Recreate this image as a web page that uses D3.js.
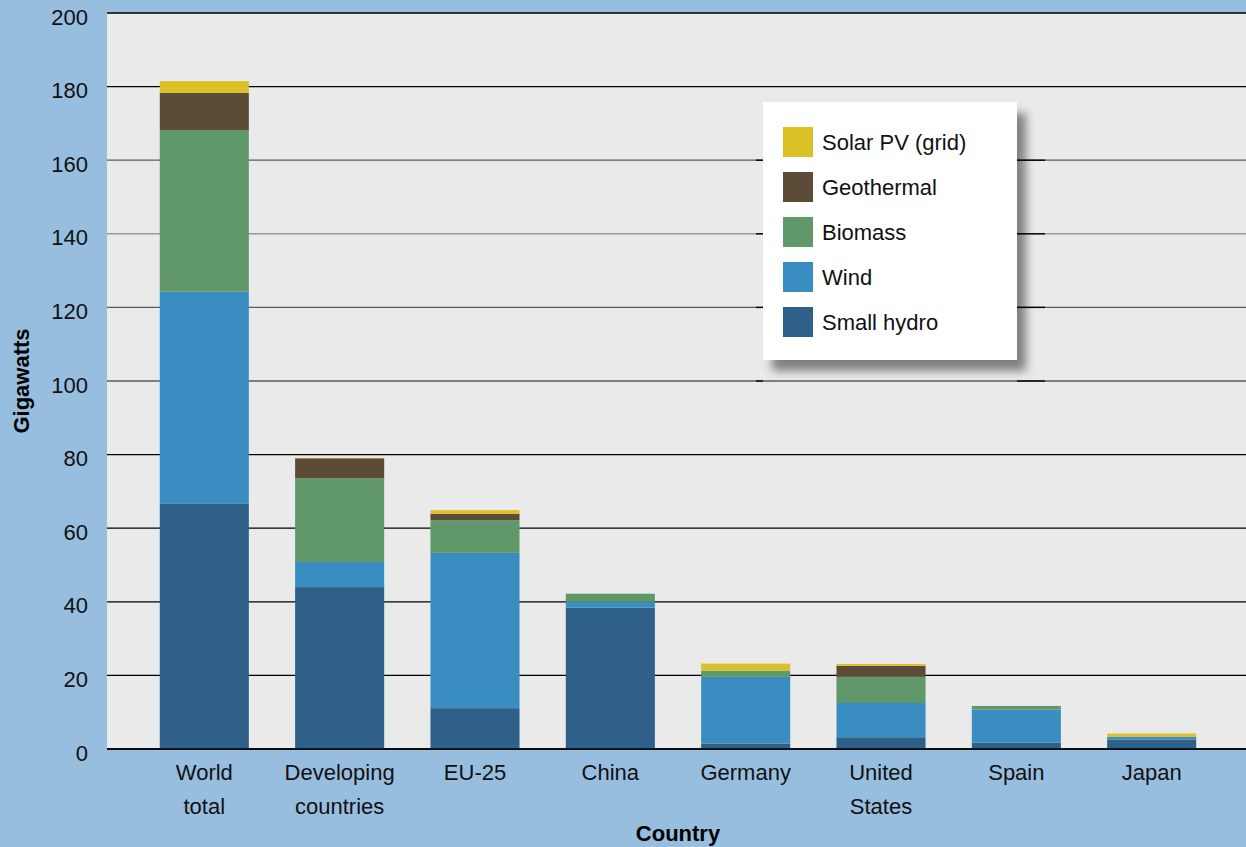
<!DOCTYPE html>
<html>
<head>
<meta charset="utf-8">
<script src="https://cdn.jsdelivr.net/npm/d3@7"></script>
<style>
  html, body { margin: 0; padding: 0; background: #98bedf; }
  svg { display: block; font-family: "Liberation Sans", Arial, sans-serif; }
</style>
</head>
<body>
<svg id="chart" width="1246" height="847"></svg>
<script>
const categories = ["World total", "Developing countries", "EU-25", "China", "Germany", "United States", "Spain", "Japan"];
const categoryLines = [["World", "total"], ["Developing", "countries"], ["EU-25"], ["China"], ["Germany"], ["United", "States"], ["Spain"], ["Japan"]];
const seriesNames = ["Small hydro", "Wind", "Biomass", "Geothermal", "Solar PV (grid)"];
const seriesColors = ["#2e6089", "#3a8dc0", "#60986a", "#5c4b36", "#dbc126"];
const smallHydro = [66.6, 44.0, 11.1, 38.4, 1.5, 3.2, 1.7, 2.5];
const wind       = [57.7, 6.8, 42.2, 1.6, 18.1, 9.3, 9.0, 0.8];
const biomass    = [43.9, 22.8, 8.9, 2.2, 1.7, 7.1, 1.0, 0];
const geothermal = [10.1, 5.4, 1.7, 0, 0, 3.0, 0, 0];
const solarPV    = [3.2, 0.1, 1.0, 0, 1.9, 0.5, 0, 0.9];
const yTicks = [0, 20, 40, 60, 80, 100, 120, 140, 160, 180, 200];
const legendOrder = ["Solar PV (grid)", "Geothermal", "Biomass", "Wind", "Small hydro"];

(function () {
const seriesValues = [smallHydro, wind, biomass, geothermal, solarPV];
const table = categories.map((c, i) => {
  const row = { category: c };
  seriesNames.forEach((s, j) => row[s] = seriesValues[j][i]);
  return row;
});

const svg = d3.select("#chart");
const mLeft = 107, mRight = 1246, mTop = 13, mBottom = 749;
const fs = 22;

const x = d3.scaleBand().domain(categories).range([mLeft, 1249]).paddingInner(0.342).paddingOuter(0.39);
const y = d3.scaleLinear().domain([0, 200]).range([mBottom, mTop]);
const color = d3.scaleOrdinal().domain(seriesNames).range(seriesColors);

svg.append("rect").attr("x", mLeft).attr("y", mTop).attr("width", mRight - mLeft).attr("height", mBottom - mTop).attr("fill", "#eaeaea");

const grayTicks = { 100: "#5a5a5a", 120: "#5a5a5a", 140: "#999999", 160: "#5a5a5a" };
const grid = svg.append("g");
grid.selectAll("line").data(yTicks).join("line")
  .attr("x1", mLeft).attr("x2", mRight)
  .attr("y1", d => y(d)).attr("y2", d => y(d))
  .attr("stroke", d => grayTicks[d] || "#000")
  .attr("stroke-width", d => d === 140 ? 1.6 : 1.3);
[100, 120, 140, 160].forEach(t => {
  [[756, 763], [1017, 1045]].forEach(([a, b]) => {
    grid.append("line").attr("x1", a).attr("x2", b).attr("y1", y(t)).attr("y2", y(t)).attr("stroke", "#000").attr("stroke-width", 1.4);
  });
});

const stacked = d3.stack().keys(seriesNames)(table);
svg.append("g").selectAll("g").data(stacked).join("g")
  .attr("fill", d => color(d.key))
  .selectAll("rect").data(d => d).join("rect")
  .attr("x", d => x(d.data.category))
  .attr("width", x.bandwidth())
  .attr("y", d => y(d[1]))
  .attr("height", d => Math.max(0, y(d[0]) - y(d[1])));

svg.append("line").attr("x1", mLeft).attr("x2", mRight).attr("y1", mBottom).attr("y2", mBottom).attr("stroke", "#000").attr("stroke-width", 1.3);

const yg = svg.append("g").attr("transform", "translate(88,0)").call(d3.axisLeft(y).tickValues(yTicks).tickSize(0).tickPadding(0));
yg.select(".domain").remove();
yg.selectAll("text").attr("font-size", fs).attr("fill", "#111").attr("dy", "0.5em")
  .attr("font-family", "Liberation Sans, Arial, sans-serif");

const xg = svg.append("g").attr("transform", `translate(0,${mBottom})`).call(d3.axisBottom(x).tickSize(0).tickFormat(() => ""));
xg.select(".domain").remove();
xg.selectAll(".tick").each(function (d, i) {
  const t = d3.select(this).append("text")
    .attr("text-anchor", "middle").attr("font-size", fs).attr("fill", "#111")
    .attr("font-family", "Liberation Sans, Arial, sans-serif");
  categoryLines[i].forEach((ln, k) => {
    t.append("tspan").attr("x", 0).attr("y", 31 + k * 34).text(ln);
  });
});

svg.append("text").attr("x", 678).attr("y", 841).attr("text-anchor", "middle")
  .attr("font-size", fs).attr("font-weight", "bold").attr("fill", "#000").text("Country");
svg.append("text").attr("transform", "translate(29,381) rotate(-90)").attr("text-anchor", "middle")
  .attr("font-size", fs).attr("font-weight", "bold").attr("fill", "#000").text("Gigawatts");

const f = svg.append("defs").append("filter").attr("id", "shadow").attr("x", "-20%").attr("y", "-20%").attr("width", "150%").attr("height", "150%");
f.append("feDropShadow").attr("dx", 9).attr("dy", 11).attr("stdDeviation", 5).attr("flood-color", "#000").attr("flood-opacity", 0.45);

const lg = svg.append("g").attr("transform", "translate(763,102)");
lg.append("rect").attr("width", 254).attr("height", 258).attr("fill", "#fff").attr("filter", "url(#shadow)");
const items = lg.selectAll("g.item").data(legendOrder).join("g").attr("class", "item")
  .attr("transform", (d, i) => `translate(20,${25 + i * 45})`);
items.append("rect").attr("width", 30).attr("height", 30).attr("fill", d => color(d));
items.append("text").attr("x", 39).attr("y", 15).attr("dy", "0.35em")
  .attr("font-size", fs).attr("fill", "#111").text(d => d);
})();
</script>
</body>
</html>
